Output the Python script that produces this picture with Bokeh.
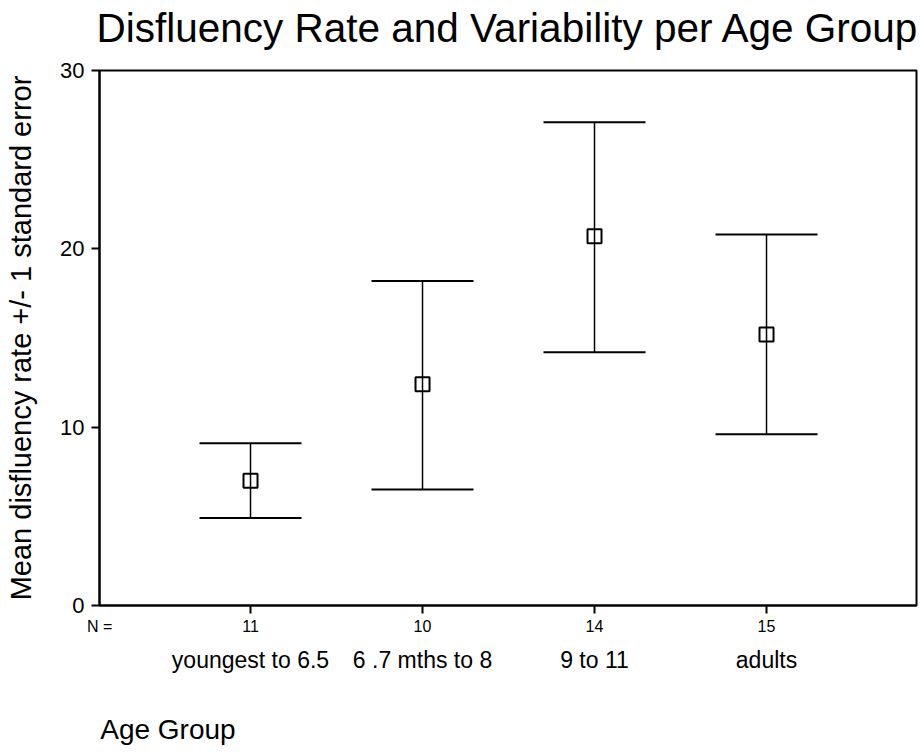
from bokeh.plotting import figure
from bokeh.models import (Range1d, FixedTicker, LinearAxis, Whisker,
                          ColumnDataSource, TeeHead)
from bokeh.embed import file_html
from bokeh.resources import INLINE

# ---- data ----
groups = ["youngest to 6.5", "6 .7 mths to 8", "9 to 11", "adults"]
n_values = [11, 10, 14, 15]
means = [7.0, 12.4, 20.7, 15.2]
upper = [9.1, 18.2, 27.1, 20.8]
lower = [4.9, 6.5, 14.2, 9.6]
y_ticks = [0, 10, 20, 30]

title_text = "Disfluency Rate and Variability per Age Group"
y_label = "Mean disfluency rate +/- 1 standard error"
x_label = "Age Group"
n_label = "N ="

FONT = "Liberation Sans"
X_START, X_END = -0.878, 3.872      # plot-area extent in category units
AGE_POS = -0.48                     # centre of the "Age Group" caption

xs = list(range(len(groups)))
src = ColumnDataSource(dict(x=xs, mean=means, upper=upper, lower=lower))

p = figure(width=920, height=752, output_backend="svg", toolbar_location=None,
           title=None,
           x_range=Range1d(X_START, X_END), y_range=Range1d(0, 30),
           x_axis_type=None, min_border_left=99, min_border_right=4,
           min_border_top=70, min_border_bottom=147)

p.outline_line_color = "black"
p.outline_line_width = 2
p.xgrid.visible = False
p.ygrid.visible = False
p.background_fill_color = "white"
p.border_fill_color = "white"


def bare_axis(ticks, texts, size, standoff):
    ax = LinearAxis(ticker=FixedTicker(ticks=ticks),
                    major_label_overrides={t: s for t, s in zip(ticks, texts)})
    ax.axis_line_color = None
    ax.major_tick_line_color = None
    ax.minor_tick_line_color = None
    ax.major_tick_in = 0
    ax.major_tick_out = 0
    ax.major_label_text_font = FONT
    ax.major_label_text_font_size = size
    ax.major_label_text_color = "black"
    ax.major_label_standoff = standoff
    return ax


# chart title, as the label of a bare axis above the plot area
top = bare_axis([], [], "10px", 0)
top.axis_label = title_text
top.axis_label_text_font = FONT
top.axis_label_text_font_size = "40.5px"
top.axis_label_text_font_style = "normal"
top.axis_label_text_color = "black"
top.axis_label_standoff = 20
p.add_layout(top, "above")

# y axis
ya = p.yaxis[0]
ya.ticker = FixedTicker(ticks=y_ticks)
ya.minor_tick_line_color = None
ya.major_tick_in = 0
ya.major_tick_out = 8
ya.major_tick_line_width = 2
ya.axis_line_width = 2
ya.axis_line_color = "black"
ya.major_tick_line_color = "black"
ya.major_label_text_font = FONT
ya.major_label_text_font_size = "22px"
ya.major_label_text_color = "black"
ya.major_label_standoff = 7
ya.axis_label = y_label
ya.axis_label_text_font = FONT
ya.axis_label_text_font_size = "29px"
ya.axis_label_text_font_style = "normal"
ya.axis_label_text_color = "black"
ya.axis_label_standoff = 20

# x axis: line and tick marks only
xa = LinearAxis(ticker=FixedTicker(ticks=xs),
                major_label_overrides={x: " " for x in xs})
xa.minor_tick_line_color = None
xa.major_tick_in = 0
xa.major_tick_out = 8
xa.major_tick_line_width = 2
xa.axis_line_width = 2
xa.axis_line_color = "black"
xa.major_tick_line_color = "black"
xa.major_label_text_font_size = "1px"
xa.major_label_standoff = 0
p.add_layout(xa, "below")

# row: "N =" and the group sizes
n_ticks = [X_START + 0.0005] + xs
n_texts = [n_label] + [str(n) for n in n_values]
p.add_layout(bare_axis(n_ticks, n_texts, "16px", 0), "below")

# row: group names
p.add_layout(bare_axis(xs, groups, "23px", 9), "below")

# row: "Age Group" caption
p.add_layout(bare_axis([AGE_POS], [x_label], "28px", 38), "below")

# error bars
wh = Whisker(source=src, base="x", upper="upper", lower="lower",
             dimension="height", line_color="black", line_width=1.5,
             upper_head=TeeHead(size=102, line_width=2, line_color="black"),
             lower_head=TeeHead(size=102, line_width=2, line_color="black"))
p.add_layout(wh)

p.scatter("x", "mean", source=src, marker="square", size=14,
          fill_color=None, line_color="black", line_width=2)

open("out.html", "w").write(file_html(p, INLINE))
